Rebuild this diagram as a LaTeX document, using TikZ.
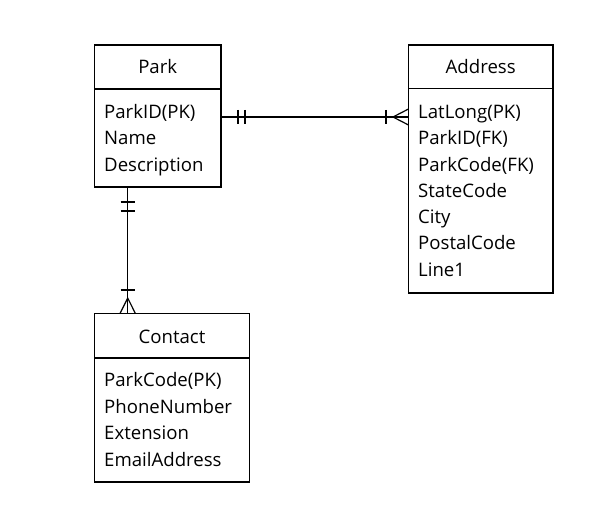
\documentclass[tikz,border=0pt]{standalone}
\usepackage{fontspec}
\setmainfont{Open Sans}
\begin{document}
\begin{tikzpicture}[x=1pt,y=-1pt,
  box/.style={draw,line width=1.2pt},
  conn/.style={line width=1.2pt},
  attr/.style={anchor=base west,inner sep=0pt,font=\fontsize{18.6}{22}\selectfont},
  ttl/.style={anchor=base,inner sep=0pt,font=\fontsize{18.6}{22}\selectfont}]
\useasboundingbox (0,0) rectangle (592,521);
% Park
\draw[box] (94.5,45) rectangle (221,187);
\draw[conn] (94.5,89) -- (221,89);
\node[ttl] (parkT) at (157.7,73.3) {Park};
\node[attr] (p1) at (104,118.3) {ParkID(PK)};
\node[attr] (p2) at (104,144.8) {Name};
\node[attr] (p3) at (104,171.2) {Description};
% Address
\draw[box] (408.5,45) rectangle (553,293);
\draw[conn] (408.5,88.5) -- (553,88.5);
\node[ttl] (addrT) at (480.7,73.3) {Address};
\node[attr] (a1) at (418,118.5) {LatLong(PK)};
\node[attr] (a2) at (418,144.8) {ParkID(FK)};
\node[attr] (a3) at (418,171.1) {ParkCode(FK)};
\node[attr] (a4) at (418,197.4) {StateCode};
\node[attr] (a5) at (418,223.7) {City};
\node[attr] (a6) at (418,250) {PostalCode};
\node[attr] (a7) at (418,276.3) {Line1};
% Contact
\draw[box] (94.5,313.5) rectangle (249.5,482);
\draw[conn] (94.5,358) -- (249.5,358);
\node[ttl] (contT) at (172,343.3) {Contact};
\node[attr] (c1) at (104,386.7) {ParkCode(PK)};
\node[attr] (c2) at (104,413.3) {PhoneNumber};
\node[attr] (c3) at (104,439.8) {Extension};
\node[attr] (c4) at (104,466.3) {EmailAddress};
% Park - Address
\coordinate (pr) at (221,117);
\coordinate (al) at (408.5,117);
\draw[conn] (pr) -- (al);
\draw[conn] (238,110) -- (238,124);
\draw[conn] (245,110) -- (245,124);
\draw[conn] (386,110) -- (386,124);
\draw[conn] (408.5,109) -- (393,117) -- (408.5,125);
% Park - Contact
\coordinate (pb) at (127.7,187);
\coordinate (ct) at (127.7,313.5);
\draw[conn] (pb) -- (ct);
\draw[conn] (120.7,202) -- (134.7,202);
\draw[conn] (120.7,211) -- (134.7,211);
\draw[conn] (120.7,290) -- (134.7,290);
\draw[conn] (120,313.5) -- (127.7,298) -- (135.4,313.5);
\end{tikzpicture}
\end{document}
